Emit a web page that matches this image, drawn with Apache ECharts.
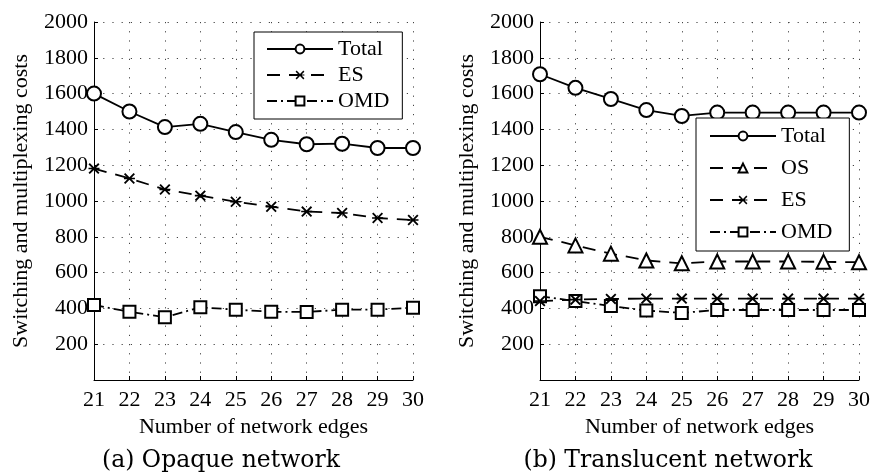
<!DOCTYPE html>
<html>
<head>
<meta charset="utf-8">
<script src="https://cdn.jsdelivr.net/npm/echarts@6/dist/echarts.min.js"></script>
<style>
  html, body { margin: 0; padding: 0; background: #fff; }
  #chart { width: 873px; height: 474px; }
</style>
</head>
<body>
<div id="chart"></div>
<script>
// Number of network edges (x values shared by both panels)
const edges = [21, 22, 23, 24, 25, 26, 27, 28, 29, 30];

// (a) Opaque network
const opaqueTotal = [1600, 1500, 1413, 1431, 1385, 1342, 1317, 1320, 1296, 1296];
const opaqueES    = [1181, 1126, 1064, 1030, 996, 968, 941, 933, 905, 894];
const opaqueOMD   = [419, 381, 351, 406, 393, 381, 380, 393, 393, 404];

// (b) Translucent network
const transTotal = [1708, 1632, 1570, 1508, 1475, 1494, 1494, 1494, 1494, 1494];
const transOS    = [800, 752, 706, 668, 652, 662, 662, 662, 660, 658];
const transES    = [441, 449, 453, 455, 455, 455, 455, 455, 455, 455];
const transOMD   = [468, 441, 413, 388, 375, 391, 391, 391, 391, 391];

const yTicks = [200, 400, 600, 800, 1000, 1200, 1400, 1600, 1800, 2000];
const xName = 'Number of network edges';
const yName = 'Switching and multiplexing costs';
const captions = ['(a) Opaque network', '(b) Translucent network'];

const SERIF = '"Liberation Serif", "DejaVu Serif", serif';
const CAPTION_FONT = '"DejaVu Serif", serif';
const BLACK = '#000';

// asterisk-like cross marker (x with a horizontal bar)
const STAR = 'path://M0,1.2L1.2,0L5,3.8L8.8,0L10,1.2L6.2,5L10,8.8L8.8,10L5,6.2L1.2,10L0,8.8L3.8,5Z M0,4.3L10,4.3L10,5.7L0,5.7Z';

const pair = (ys) => edges.map((x, i) => [x, ys[i]]);

const dotted = { color: '#444', type: [1.2, 8], width: 1 };

function xAxisFor(gridIndex) {
  return {
    type: 'value', gridIndex, min: 21, max: 30, interval: 1,
    name: xName, nameLocation: 'middle', nameGap: 35,
    nameTextStyle: { fontFamily: SERIF, fontSize: 22, color: BLACK },
    axisLine: { lineStyle: { color: BLACK, width: 1 } },
    axisTick: { inside: true, length: 4, lineStyle: { color: BLACK } },
    axisLabel: { fontFamily: SERIF, fontSize: 22, color: BLACK, margin: 9 },
    splitLine: { show: true, lineStyle: dotted }
  };
}
function yAxisFor(gridIndex) {
  return {
    type: 'value', gridIndex, min: 0, max: 2000, interval: 200,
    name: yName, nameLocation: 'middle', nameGap: 62,
    nameTextStyle: { fontFamily: SERIF, fontSize: 22, color: BLACK },
    axisLine: { show: true, lineStyle: { color: BLACK, width: 1 } },
    axisTick: { show: true, inside: true, length: 4, lineStyle: { color: BLACK } },
    axisLabel: {
      fontFamily: SERIF, fontSize: 22, color: BLACK, margin: 6,
      formatter: (v) => (yTicks.indexOf(v) >= 0 ? String(v) : '')
    },
    splitLine: { show: true, lineStyle: dotted }
  };
}

const styles = {
  Total: { symbol: 'emptyCircle', symbolSize: 14, line: 'solid' },
  OS:    { symbol: 'emptyTriangle', symbolSize: 14, line: [13, 9] },
  ES:    { symbol: STAR, symbolSize: 11, line: [13, 9] },
  OMD:   { symbol: 'emptyRect', symbolSize: 12, line: [10, 4, 2, 4] }
};

function makeSeries(name, ys, idx) {
  const s = styles[name];
  return {
    name, type: 'line', xAxisIndex: idx, yAxisIndex: idx,
    data: pair(ys),
    symbol: s.symbol, symbolSize: s.symbolSize, showAllSymbol: true,
    lineStyle: { color: BLACK, width: 1.8, type: s.line },
    itemStyle: { color: BLACK, borderColor: BLACK, borderWidth: s.symbol === STAR ? 0 : 1.8 },
    emphasis: { disabled: true },
    animation: false, z: name === 'Total' ? 3 : 2
  };
}

const legendCommon = {
  orient: 'vertical',
  backgroundColor: '#fff',
  borderColor: BLACK, borderWidth: 1, borderRadius: 0,
  itemWidth: 66, itemHeight: 11,
  textStyle: { fontFamily: SERIF, fontSize: 22, color: BLACK },
  selectedMode: false
};

const chart = echarts.init(document.getElementById('chart'), null, { renderer: 'canvas' });
chart.setOption({
  backgroundColor: '#fff',
  animation: false,
  grid: [
    { left: 94, top: 22, width: 319, height: 358 },
    { left: 540, top: 22, width: 321, height: 358 }
  ],
  xAxis: [xAxisFor(0), xAxisFor(1)],
  yAxis: [yAxisFor(0), yAxisFor(1)],
  legend: [
    Object.assign({}, legendCommon, {
      left: 254, top: 32, padding: [6, 13, 7, 12], itemGap: 4,
      data: ['Total', 'ES', 'OMD']
    }),
    Object.assign({}, legendCommon, {
      left: 696, top: 118, padding: [7, 17, 8, 13], itemGap: 10,
      data: ['Total', 'OS', 'ES', 'OMD']
    })
  ],
  series: [
    makeSeries('OMD', opaqueOMD, 0),
    makeSeries('ES', opaqueES, 0),
    makeSeries('Total', opaqueTotal, 0),
    makeSeries('OMD', transOMD, 1),
    makeSeries('ES', transES, 1),
    makeSeries('OS', transOS, 1),
    makeSeries('Total', transTotal, 1)
  ],
  graphic: [
    { type: 'text', x: 221, y: 461, style: { text: captions[0], font: '23.5px ' + CAPTION_FONT, fill: BLACK, textAlign: 'center', textVerticalAlign: 'middle' } },
    { type: 'text', x: 668, y: 461, style: { text: captions[1], font: '23.5px ' + CAPTION_FONT, fill: BLACK, textAlign: 'center', textVerticalAlign: 'middle' } }
  ]
});
</script>
</body>
</html>
